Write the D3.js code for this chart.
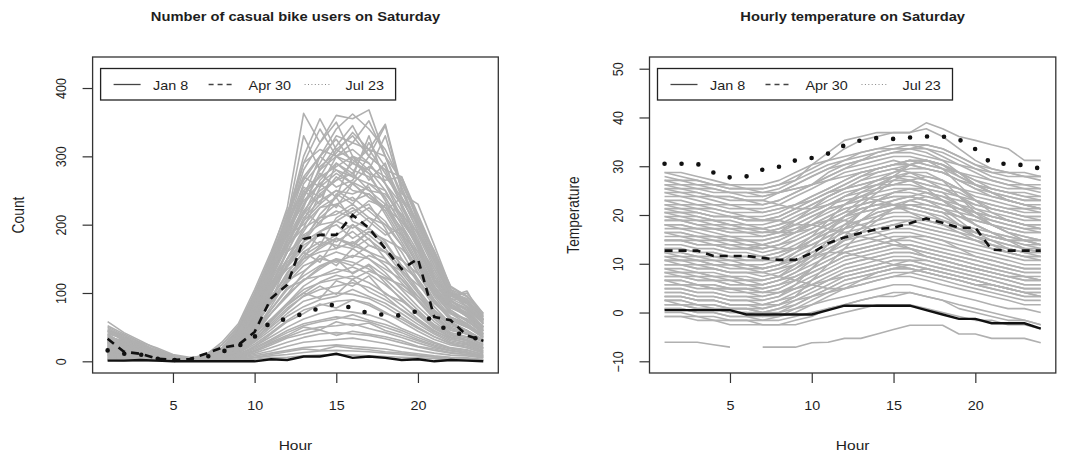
<!DOCTYPE html>
<html>
<head>
<meta charset="utf-8">
<script src="https://cdn.jsdelivr.net/npm/d3@7/dist/d3.min.js"></script>
<style>
  body { margin: 0; background: #fff; }
  svg { display: block; font-family: "Liberation Sans", Arial, Helvetica, sans-serif; }
</style>
</head>
<body>
<svg id="chart" width="1076" height="458"></svg>
<script>
// ---- data ----
var hours = [1,2,3,4,5,6,7,8,9,10,11,12,13,14,15,16,17,18,19,20,21,22,23,24];
var xTicks = [5, 10, 15, 20];
var countTicks = [0, 100, 200, 300, 400];
var tempTicks = [-10, 0, 10, 20, 30, 40, 50];
var legendLabels = ['Jan 8', 'Apr 30', 'Jul 23'];

// casual users on the other Saturdays (grey)
var countGrey = [
  [58,42,30,18,8,4,10,24,52,100,155,225,363,320,350,300,290,260,230,170,120,95,100,70],
  [40,34,24,14,6,3,6,18,42,95,150,210,300,355,310,330,300,345,250,200,150,100,80,60],
  [35,28,20,12,5,2,5,15,38,88,140,205,280,320,360,355,368,300,240,190,140,95,90,65],
  [30,22,18,10,4,2,4,12,33,78,135,200,270,300,340,362,340,310,260,210,160,100,85,55],
  [25,20,15,9,3,2,3,10,30,75,130,195,260,290,330,320,310,347,255,200,150,95,103,60],
  [48,36,25,14,7,4,8,20,48,100,150,215,290,310,300,280,270,240,200,160,110,80,70,50],
  [20,18,12,8,3,1,3,9,25,65,120,180,240,280,300,310,290,260,220,170,120,85,65,45],
  [38,26,20,12,5,3,6,16,40,90,140,200,250,270,285,300,280,250,210,175,130,90,75,50],
  [30,25,16,10,4,2,5,14,38,85,145,195,235,260,280,270,260,240,200,150,110,80,70,48],
  [22,17,13,7,3,1,3,10,28,70,130,175,220,250,265,290,275,235,190,145,105,75,60,40],
  [44,30,22,13,6,3,7,18,46,98,155,205,255,240,270,250,245,225,185,140,100,70,62,45],
  [18,14,10,6,2,1,3,8,22,60,110,160,210,235,250,245,255,215,175,135,95,65,55,38],
  [28,20,15,9,4,2,4,12,32,78,135,185,200,225,230,240,220,200,170,130,90,60,50,35],
  [35,24,18,10,5,2,5,14,36,82,125,170,195,210,215,230,210,190,160,120,85,62,52,36],
  [15,12,9,5,2,1,2,7,20,55,100,150,185,200,205,220,230,195,150,115,80,55,45,30],
  [26,19,14,8,3,1,4,11,30,72,115,150,175,190,200,180,195,175,140,105,75,55,45,32],
  [32,22,16,9,4,2,4,12,30,65,105,140,170,185,175,190,170,160,130,100,72,50,42,30],
  [12,10,8,5,2,1,2,6,18,48,90,130,160,175,170,165,180,150,120,90,65,45,40,28],
  [22,16,12,7,3,1,3,9,24,58,95,125,150,160,165,175,160,140,115,88,62,42,36,25],
  [28,20,14,8,3,2,4,10,25,55,85,115,140,150,145,155,150,130,105,80,58,40,34,24],
  [10,8,6,4,2,1,2,5,15,42,75,105,125,140,150,145,135,120,98,75,52,38,32,22],
  [18,14,10,6,3,1,3,8,20,45,70,95,120,125,135,130,140,115,90,68,48,35,30,20],
  [24,17,12,7,3,1,3,8,18,40,62,85,105,115,120,125,115,100,82,62,45,32,28,18],
  [8,7,5,3,1,1,2,5,12,32,55,78,95,105,110,115,108,95,75,58,42,30,25,16],
  [14,11,8,5,2,1,2,6,14,30,50,70,88,95,100,98,92,80,65,50,36,26,22,14],
  [20,15,10,6,2,1,2,6,12,25,42,60,75,82,88,90,85,72,58,44,32,24,20,12],
  [6,5,4,3,1,0,1,4,10,22,36,50,62,70,75,72,68,60,48,38,28,20,17,10],
  [12,9,7,4,2,1,2,5,10,20,32,45,55,60,65,62,58,50,42,32,24,18,14,8],
  [16,12,8,5,2,1,1,4,8,16,26,36,45,50,52,55,48,42,35,27,20,15,12,7],
  [5,4,3,2,1,0,1,3,6,12,20,28,35,40,42,40,38,33,27,21,16,12,10,6],
  [9,7,5,3,1,0,1,2,5,10,15,22,28,30,32,34,30,26,21,16,12,9,8,5],
  [4,3,2,2,1,0,1,2,4,8,12,16,20,22,24,22,20,18,14,11,8,6,5,3],
  [3,2,2,1,0,0,0,1,3,5,8,10,13,15,16,15,14,12,10,8,6,4,3,2],
  [2,1,1,1,0,0,0,1,2,3,5,6,8,9,10,9,8,7,6,5,4,3,2,1],
  [42,32,24,14,6,3,7,19,45,98,150,215,270,255,300,290,310,275,230,185,135,92,88,62],
  [30,24,18,11,5,2,5,15,40,92,140,190,230,275,255,265,300,280,230,175,125,88,78,55],
  [36,28,20,12,5,2,6,17,44,88,130,175,215,245,265,275,250,230,215,165,115,82,72,50],
  [26,20,14,9,4,2,4,12,33,76,118,160,205,230,250,235,245,220,180,140,98,70,60,42],
  [20,15,11,7,3,1,3,9,26,62,102,140,175,205,220,210,225,205,170,128,90,64,55,38],
  [16,13,9,6,2,1,2,7,21,52,88,122,155,170,185,200,185,165,135,102,72,52,45,30],
  [34,25,18,10,4,2,4,13,34,70,110,135,150,165,180,170,160,150,125,95,68,48,40,28],
  [10,8,6,4,2,1,2,5,14,35,60,85,110,125,130,138,128,112,92,70,50,36,30,20],
  [13,10,8,5,2,1,2,5,12,28,46,66,80,90,95,105,95,85,70,54,40,28,24,15],
  [7,6,4,3,1,0,1,3,8,18,30,42,52,58,62,68,60,54,45,35,26,19,16,10],
  [50,38,27,16,8,4,9,28,55,105,160,220,265,300,280,260,240,225,195,150,105,78,68,48],
  [45,38,22,16,9,3,5,14,30,70,125,190,250,230,290,270,330,260,210,165,115,85,70,50],
  [33,30,25,12,7,5,4,13,35,62,105,165,230,260,240,300,265,290,225,180,125,90,68,52],
  [28,18,20,9,5,2,6,11,26,58,98,150,195,245,225,260,240,220,240,190,140,98,80,58],
  [52,40,28,20,10,6,7,18,36,80,120,175,220,200,245,230,260,250,205,170,118,88,76,55],
  [18,22,14,10,6,3,3,9,22,48,88,145,175,215,240,205,195,230,185,140,102,75,58,45],
  [40,25,16,11,4,2,5,13,29,66,112,140,185,170,210,225,205,185,195,155,108,80,66,44],
  [24,16,12,8,4,1,2,8,19,44,80,118,150,190,165,200,178,160,150,118,85,70,55,36],
  [36,30,18,12,6,2,4,10,24,56,94,128,160,145,180,168,190,172,140,120,88,60,50,40],
  [14,9,11,6,3,1,2,6,16,38,70,98,130,155,140,165,150,135,120,95,70,58,45,30],
  [30,21,13,7,3,2,3,9,21,46,76,108,118,135,150,128,142,125,108,90,66,46,40,28],
  [8,10,6,4,2,1,1,4,11,30,58,82,100,92,118,110,125,98,88,72,54,40,30,20],
  [20,13,9,5,2,1,2,6,14,34,52,75,96,110,98,120,102,90,76,60,44,34,26,18],
  [11,8,7,4,2,0,1,3,9,22,40,58,70,84,78,90,82,70,62,48,36,26,20,13],
  [4,6,3,2,1,0,1,2,6,15,28,38,50,46,58,52,56,45,38,30,22,16,13,8],
  [17,11,8,5,2,1,1,4,7,14,24,34,40,46,38,44,40,36,30,22,18,13,10,6],
  [2,3,2,1,0,0,1,1,3,6,10,14,18,16,22,19,17,14,12,9,7,5,4,2],
  [46,34,26,15,7,3,8,24,50,95,145,210,330,280,315,345,300,280,270,215,160,105,95,66],
  [38,27,21,13,6,2,6,19,42,90,148,205,290,340,300,320,352,300,265,205,155,100,92,60],
  [27,24,15,10,5,2,5,14,33,80,138,185,240,300,325,290,280,330,250,195,145,96,84,58],
  [32,26,19,11,5,3,6,16,38,84,128,180,225,285,305,335,310,300,245,230,170,108,96,70],
  [21,17,13,8,3,1,3,11,27,68,120,170,215,265,290,275,320,285,235,200,150,102,88,62],
  [44,33,23,13,6,3,6,17,43,92,136,188,245,270,310,295,275,265,270,210,158,104,90,64],
  [26,21,15,9,4,1,4,12,31,74,122,168,205,255,275,260,285,270,240,205,162,110,95,68],
  [19,15,11,7,3,1,3,10,25,64,108,150,190,225,240,262,250,245,215,188,148,100,86,60],
  [31,23,17,10,4,2,4,13,31,70,112,160,180,210,230,215,235,225,205,170,135,92,80,56],
  [23,18,13,8,3,1,3,10,24,60,100,138,165,190,205,195,210,200,185,160,125,88,74,50],
  [15,12,9,6,2,1,2,8,20,50,86,120,145,168,180,172,190,178,165,140,110,80,66,45],
  [29,22,15,9,4,2,4,11,26,58,90,118,132,150,160,152,170,160,148,128,100,72,60,40],
  [11,9,7,4,2,1,2,6,15,40,70,98,118,138,148,140,155,145,132,112,88,64,52,34],
  [19,14,10,6,3,1,2,7,16,36,60,84,100,116,126,120,132,122,112,95,75,55,45,30]
];
var countJan8  = [1,1,2,1,0,0,0,0,0,0,3,2,7,7,11,5,7,5,2,3,0,2,1,0];
var countApr30 = [33,14,11,4,2,3,11,20,24,43,92,112,179,185,185,214,195,165,135,150,65,60,38,30];
var countJul23 = [16,11,10,4,2,2,6,14,22,36,58,62,70,78,84,78,70,68,67,74,57,43,38,30];

// hourly temperature on the other Saturdays (grey)
var tempGrey = [
  [28.7,28.7,27.9,27.1,26.2,26.2,26.2,27.1,28.7,30.3,31.2,32.0,32.8,33.6,33.6,33.6,34.4,33.6,32.0,30.3,29.5,28.7,28.7,27.9],
  [27.9,27.1,27.1,26.2,25.4,25.4,25.4,26.2,27.9,29.5,31.2,33.6,35.3,36.1,36.9,36.9,37.7,36.1,33.6,31.2,29.5,28.7,27.9,27.9],
  [26.2,26.2,25.4,25.4,24.6,24.6,24.6,25.4,27.1,30.3,32.8,35.3,36.1,36.9,36.9,36.9,38.9,37.7,36.1,35.3,34.4,33.6,31.2,31.2],
  [25.4,25.4,24.6,23.8,23.8,23.0,23.0,24.6,26.2,27.9,29.5,30.3,31.2,32.0,32.8,32.8,32.0,31.2,30.3,29.5,28.7,28.7,27.9,27.9],
  [24.6,23.8,23.8,23.0,22.1,22.1,22.1,23.0,24.6,26.2,27.9,29.5,30.3,31.2,32.0,32.0,31.2,30.3,28.7,27.1,26.2,25.4,25.4,24.6],
  [23.8,23.8,23.0,22.1,22.1,21.3,21.3,22.1,23.8,25.4,27.1,28.7,29.5,30.3,31.2,30.3,29.5,28.7,27.1,26.2,25.4,24.6,23.8,23.8],
  [23.0,22.1,22.1,21.3,20.5,20.5,20.5,21.3,22.1,23.8,25.4,27.1,28.7,29.5,30.3,30.3,31.2,30.3,28.7,26.2,24.6,23.8,23.0,23.0],
  [22.1,22.1,21.3,21.3,20.5,19.7,19.7,20.5,22.1,23.0,24.6,26.2,27.9,28.7,29.5,28.7,27.9,27.1,25.4,24.6,23.8,23.0,22.1,22.1],
  [21.3,21.3,20.5,19.7,19.7,18.9,18.9,19.7,21.3,23.0,24.6,25.4,26.2,27.1,27.9,27.9,27.1,26.2,25.4,23.8,23.0,22.1,21.3,21.3],
  [20.5,19.7,19.7,18.9,18.0,18.0,18.0,18.9,20.5,22.1,23.8,25.4,27.1,27.9,28.7,29.5,29.5,28.7,27.1,25.4,23.8,23.0,22.1,21.3],
  [19.7,19.7,18.9,18.9,18.0,17.2,17.2,18.0,19.7,21.3,23.0,24.6,25.4,26.2,26.2,27.1,26.2,25.4,24.6,23.0,22.1,21.3,20.5,20.5],
  [18.9,18.9,18.0,17.2,17.2,16.4,16.4,17.2,18.9,20.5,22.1,23.8,25.4,26.2,27.1,27.1,26.2,25.4,23.8,22.1,21.3,20.5,19.7,19.7],
  [18.0,18.0,17.2,17.2,16.4,16.4,15.6,16.4,18.0,19.7,21.3,22.1,23.0,23.8,24.6,24.6,23.8,23.0,22.1,21.3,20.5,19.7,18.9,18.9],
  [17.2,17.2,16.4,15.6,15.6,14.8,14.8,15.6,17.2,18.9,20.5,22.1,23.8,25.4,26.2,27.1,27.9,27.1,25.4,23.0,21.3,20.5,19.7,18.9],
  [16.4,16.4,15.6,15.6,14.8,14.8,13.9,14.8,16.4,18.0,19.7,21.3,22.1,23.0,23.8,23.8,23.0,22.1,21.3,20.5,19.7,18.9,18.0,18.0],
  [15.6,15.6,14.8,14.8,13.9,13.9,13.1,13.9,15.6,17.2,18.9,20.5,21.3,22.1,22.1,23.0,22.1,21.3,20.5,19.7,18.9,18.0,17.2,17.2],
  [14.8,14.8,13.9,13.9,13.1,13.1,12.3,13.1,14.8,16.4,18.0,19.7,21.3,22.1,23.0,23.8,24.6,23.8,22.1,20.5,18.9,18.0,17.2,16.4],
  [13.9,13.9,13.1,13.1,12.3,12.3,11.5,12.3,13.9,15.6,17.2,18.9,20.5,21.3,22.1,22.1,21.3,20.5,19.7,18.9,18.0,17.2,16.4,16.4],
  [13.1,13.1,12.3,12.3,11.5,11.5,10.7,11.5,13.1,14.8,16.4,17.2,18.0,18.9,19.7,19.7,18.9,18.0,17.2,16.4,15.6,14.8,14.8,13.9],
  [12.3,11.5,11.5,10.7,10.7,9.8,9.8,10.7,12.3,13.9,15.6,17.2,18.9,20.5,21.3,22.1,22.1,21.3,19.7,18.0,16.4,15.6,14.8,14.8],
  [11.5,11.5,10.7,10.7,9.8,9.8,9.0,9.8,11.5,13.1,14.8,16.4,17.2,18.0,18.9,18.9,18.0,17.2,16.4,15.6,14.8,13.9,13.1,13.1],
  [10.7,10.7,9.8,9.8,9.0,9.0,8.2,9.0,10.7,12.3,13.9,15.6,16.4,17.2,18.0,18.0,17.2,16.4,15.6,14.8,13.9,13.1,12.3,12.3],
  [9.8,9.8,9.0,9.0,8.2,8.2,7.4,8.2,9.8,11.5,13.1,14.8,16.4,17.2,18.0,18.9,18.9,18.0,16.4,14.8,13.1,12.3,11.5,11.5],
  [9.0,9.0,8.2,8.2,7.4,7.4,6.6,7.4,9.0,10.7,12.3,13.9,14.8,15.6,16.4,16.4,15.6,14.8,13.9,13.1,12.3,11.5,10.7,10.7],
  [8.2,8.2,7.4,7.4,6.6,6.6,5.7,6.6,8.2,9.8,11.5,13.1,13.9,14.8,15.6,15.6,14.8,13.9,13.1,12.3,11.5,10.7,9.8,9.8],
  [7.4,7.4,6.6,6.6,5.7,5.7,4.9,5.7,7.4,9.0,10.7,12.3,13.1,13.9,14.8,15.6,15.6,14.8,13.1,11.5,10.7,9.8,9.0,9.0],
  [6.6,6.6,5.7,5.7,4.9,4.9,4.1,4.9,6.6,8.2,9.8,11.5,12.3,13.1,13.9,13.9,13.1,12.3,11.5,10.7,9.8,9.0,8.2,8.2],
  [5.7,5.7,4.9,4.9,4.1,4.1,3.3,4.1,5.7,7.4,9.0,10.7,11.5,12.3,13.1,13.1,12.3,11.5,10.7,9.8,9.0,8.2,7.4,7.4],
  [4.9,4.9,4.1,4.1,3.3,3.3,2.5,3.3,4.9,6.6,8.2,9.8,10.7,11.5,12.3,12.3,11.5,10.7,9.8,9.0,8.2,7.4,6.6,6.6],
  [4.1,4.1,3.3,3.3,2.5,2.5,1.6,2.5,4.1,5.7,7.4,9.0,9.8,10.7,11.5,11.5,10.7,9.8,9.0,8.2,7.4,6.6,5.7,5.7],
  [3.3,3.3,2.5,2.5,1.6,1.6,0.8,1.6,3.3,4.9,6.6,8.2,9.0,9.8,10.7,10.7,9.8,9.0,8.2,7.4,6.6,5.7,4.9,4.9],
  [2.5,2.5,1.6,1.6,0.8,0.8,0.0,0.8,2.5,4.1,5.7,7.4,8.2,9.0,9.8,9.8,9.0,8.2,7.4,6.6,5.7,4.9,4.1,4.1],
  [1.6,1.6,0.8,0.8,0.0,0.0,-0.8,0.0,1.6,3.3,4.9,6.6,7.4,8.2,9.0,9.0,8.2,7.4,6.6,5.7,4.9,4.1,3.3,3.3],
  [0.8,0.8,0.0,0.0,-0.8,-0.8,-1.6,-0.8,0.8,2.5,4.1,5.7,6.6,7.4,8.2,8.2,7.4,6.6,5.7,4.9,4.1,3.3,2.5,2.5],
  [-0.8,-0.8,-1.6,-1.6,-2.5,-2.5,-2.5,-2.5,-1.6,-0.8,0.8,1.6,2.5,3.3,4.1,4.1,3.3,2.5,1.6,0.8,0.0,-0.8,-1.6,-2.5],
  [10.7,9.8,9.8,9.0,8.2,8.2,8.2,7.4,6.6,5.7,4.9,4.9,5.7,6.6,7.4,8.2,9.0,8.2,7.4,6.6,5.7,4.9,4.1,3.3],
  [2.5,2.5,1.6,1.6,0.8,0.8,0.8,1.6,3.3,6.6,9.8,13.1,16.4,18.9,21.3,23.0,23.8,23.0,21.3,19.7,18.0,16.4,14.8,13.9],
  [20.5,20.5,19.7,18.9,18.9,18.0,17.2,16.4,16.4,17.2,18.9,20.5,23.0,25.4,27.9,30.3,31.2,30.3,27.9,26.2,24.6,23.0,22.1,21.3],
  [18.0,17.2,17.2,16.4,15.6,15.6,15.6,16.4,18.9,21.3,23.8,25.4,26.2,27.1,27.9,27.1,25.4,23.0,20.5,18.0,16.4,14.8,13.9,13.1],
  [6.6,5.7,5.7,4.9,4.9,4.1,4.1,4.9,6.6,9.0,12.3,14.8,17.2,19.7,21.3,22.1,21.3,20.5,18.0,15.6,13.9,12.3,11.5,10.7],
  [0.0,0.0,-0.8,-0.8,-1.6,-1.6,-1.6,-1.6,-0.8,0.0,0.8,1.6,2.5,3.3,3.3,4.1,3.3,2.5,0.8,0.0,-0.8,-1.6,-1.6,-2.5],
  [27.1,26.2,26.2,25.4,24.6,24.6,23.8,24.6,25.4,26.2,27.1,27.9,28.7,29.5,30.3,31.2,30.3,29.5,28.7,27.9,27.1,26.2,26.2,25.4],
  [12.3,12.3,11.5,11.5,10.7,10.7,10.7,11.5,13.1,15.6,18.9,22.1,24.6,26.2,27.9,28.7,27.1,25.4,23.8,21.3,19.7,18.9,18.0,17.2],
  [3.3,3.3,2.5,2.5,1.6,1.6,1.6,1.6,2.5,3.3,4.1,4.9,5.7,6.6,7.4,7.4,6.6,5.7,4.9,4.1,3.3,2.5,1.6,1.6],
  [8.2,8.2,8.2,7.4,7.4,6.6,6.6,7.4,9.0,11.5,14.8,18.0,20.5,23.0,24.6,25.4,24.6,23.0,20.5,18.0,16.4,14.8,13.1,12.3],
  [28.7,27.9,27.1,26.2,26.2,25.4,25.4,26.2,27.1,28.7,30.3,31.2,32.0,32.8,33.6,34.4,34.4,33.6,32.0,30.3,28.7,27.9,27.9,27.1],
  [26.2,25.4,25.4,24.6,24.6,23.8,23.8,24.6,26.2,27.9,29.5,31.2,32.8,33.6,34.4,34.4,33.6,32.8,31.2,29.5,27.9,27.1,26.2,26.2],
  [24.6,24.6,23.8,23.8,23.0,23.0,22.1,23.0,24.6,26.2,28.7,30.3,31.2,32.0,32.8,33.6,33.6,32.0,30.3,28.7,27.1,26.2,25.4,25.4],
  [23.0,23.0,22.1,22.1,21.3,21.3,20.5,21.3,22.1,23.8,25.4,27.1,28.7,29.5,30.3,31.2,30.3,29.5,27.9,26.2,25.4,24.6,24.6,23.8],
  [21.3,20.5,20.5,19.7,19.7,18.9,18.9,18.9,20.5,22.1,23.8,25.4,27.1,28.7,29.5,30.3,29.5,28.7,27.1,25.4,24.6,23.8,23.0,23.0],
  [19.7,18.9,18.9,18.0,18.0,17.2,17.2,18.0,18.9,20.5,22.1,23.8,24.6,25.4,26.2,26.2,25.4,24.6,23.8,23.0,22.1,21.3,21.3,20.5],
  [18.0,18.0,17.2,17.2,16.4,16.4,16.4,17.2,18.0,19.7,21.3,22.1,23.8,24.6,25.4,25.4,24.6,23.8,23.0,22.1,21.3,20.5,19.7,19.7],
  [16.4,16.4,15.6,15.6,14.8,14.8,14.8,15.6,16.4,18.0,19.7,21.3,22.1,23.0,23.8,23.8,23.0,22.1,21.3,20.5,19.7,18.9,18.0,18.0],
  [14.8,14.8,14.8,13.9,13.9,13.1,13.1,13.9,14.8,16.4,18.0,19.7,20.5,21.3,22.1,22.1,21.3,20.5,19.7,18.9,18.0,17.2,16.4,16.4],
  [13.1,13.1,12.3,12.3,11.5,11.5,11.5,12.3,13.1,14.8,16.4,18.0,18.9,19.7,20.5,20.5,19.7,18.9,18.0,17.2,16.4,15.6,14.8,14.8],
  [11.5,10.7,10.7,9.8,9.8,9.0,9.0,9.8,10.7,12.3,13.9,15.6,16.4,17.2,18.0,18.0,17.2,16.4,15.6,14.8,13.9,13.1,12.3,12.3],
  [9.8,9.8,9.0,9.0,8.2,8.2,8.2,9.0,9.8,11.5,13.1,14.8,15.6,16.4,17.2,17.2,16.4,15.6,14.8,13.9,13.1,12.3,11.5,11.5],
  [8.2,7.4,7.4,6.6,6.6,5.7,5.7,6.6,7.4,9.0,10.7,12.3,13.1,13.9,14.8,14.8,13.9,13.1,12.3,11.5,10.7,9.8,9.0,9.0],
  [6.6,6.6,5.7,5.7,4.9,4.9,4.9,5.7,6.6,8.2,9.8,11.5,12.3,13.1,13.9,13.9,13.1,12.3,11.5,10.7,9.8,9.0,8.2,8.2],
  [4.9,4.9,4.1,4.1,3.3,3.3,3.3,4.1,4.9,6.6,8.2,9.8,10.7,11.5,12.3,12.3,11.5,10.7,9.8,9.0,8.2,7.4,6.6,6.6],
  [3.3,3.3,2.5,2.5,1.6,1.6,1.6,2.5,3.3,4.9,6.6,8.2,9.0,9.8,10.7,10.7,9.8,9.0,8.2,7.4,6.6,5.7,4.9,4.9],
  [1.6,1.6,0.8,0.8,0.0,0.0,0.0,0.8,1.6,3.3,4.9,6.6,7.4,8.2,9.0,9.0,8.2,7.4,6.6,5.7,4.9,4.1,3.3,3.3],
  [22.1,21.3,21.3,20.5,19.7,19.7,18.9,18.9,18.0,18.0,17.2,16.4,15.6,14.8,13.9,13.1,12.3,11.5,10.7,9.8,9.0,8.2,7.4,6.6],
  [18.9,18.9,18.0,18.0,17.2,17.2,16.4,16.4,17.2,18.0,18.9,18.9,18.0,16.4,14.8,13.1,11.5,10.7,9.8,9.0,8.2,7.4,7.4,6.6],
  [14.8,14.8,13.9,13.9,13.1,13.1,13.9,14.8,16.4,18.9,21.3,23.8,25.4,27.1,28.7,30.3,31.2,29.5,26.2,23.0,20.5,18.9,18.0,17.2],
  [4.1,4.1,3.3,3.3,2.5,2.5,2.5,3.3,5.7,9.0,12.3,15.6,18.9,21.3,23.0,23.8,23.0,21.3,18.9,16.4,14.8,13.1,12.3,11.5],
  [9.0,8.2,8.2,7.4,7.4,6.6,6.6,7.4,9.8,13.1,16.4,19.7,22.1,24.6,27.1,28.7,28.7,27.1,23.8,20.5,18.0,16.4,15.6,14.8],
  [25.4,24.6,24.6,23.8,23.8,23.0,23.0,22.1,21.3,21.3,22.1,23.0,23.8,23.0,22.1,20.5,18.9,18.0,17.2,16.4,15.6,14.8,14.8,13.9],
  [12.3,12.3,11.5,11.5,11.5,10.7,10.7,10.7,10.7,11.5,12.3,12.3,11.5,10.7,9.8,9.0,8.2,7.4,6.6,5.7,5.7,4.9,4.1,4.1],
  [7.4,7.4,6.6,6.6,5.7,5.7,5.7,6.6,8.2,10.7,13.9,17.2,20.5,23.0,24.6,25.4,25.4,24.6,22.1,19.7,18.0,16.4,15.6,14.8],
  [16.4,15.6,15.6,14.8,14.8,13.9,13.9,13.1,13.1,13.9,15.6,17.2,18.9,20.5,21.3,21.3,20.5,18.9,17.2,15.6,14.8,13.9,13.1,12.3],
  [0.8,0.8,0.0,0.0,-0.8,-0.8,-0.8,-0.8,0.0,1.6,3.3,4.9,6.6,8.2,9.0,9.8,9.0,8.2,7.4,6.6,5.7,4.9,4.1,3.3],
  [-0.8,-0.8,-0.8,-1.6,-1.6,-1.6,-2.5,-2.5,-2.5,-1.6,-0.8,0.0,0.8,1.6,1.6,1.6,0.8,0.0,-0.8,-1.6,-1.6,-2.5,-2.5,-3.3],
  [27.1,27.1,26.2,26.2,25.4,25.4,24.6,24.6,25.4,26.2,27.9,29.5,31.2,32.8,33.6,33.6,32.8,31.2,28.7,26.2,24.6,23.0,22.1,21.3],
  [10.7,10.7,10.7,9.8,9.8,9.8,9.0,9.8,12.3,14.8,17.2,19.7,21.3,22.1,22.1,21.3,20.5,19.7,18.0,16.4,15.6,14.8,13.9,13.9],
  [20.5,20.5,20.5,19.7,19.7,18.9,18.9,19.7,21.3,23.0,24.6,26.2,27.9,29.5,30.3,31.2,31.2,30.3,28.7,27.1,25.4,24.6,23.8,23.0],
  [5.7,5.7,5.7,4.9,4.9,4.9,4.1,4.1,4.9,5.7,6.6,7.4,8.2,9.0,9.8,10.7,10.7,9.8,9.0,8.2,7.4,6.6,5.7,5.7],
  [2.5,1.6,1.6,0.8,0.8,0.8,0.0,0.0,0.8,1.6,2.5,3.3,4.1,4.9,5.7,5.7,4.9,4.1,3.3,2.5,1.6,0.8,0.8,0.0],
  [-6.1,-6.1,-6.1,-6.6,-7.1,null,-7.1,-7.1,-7.1,-6.2,-6.1,-5.3,-5.3,-4.4,-3.5,-2.6,-2.6,-2.6,-4.4,-4.4,-5.3,-5.3,-5.3,-6.2]
];
var tempJan8  = [0.5,0.5,0.5,0.5,0.5,-0.4,-0.4,-0.4,-0.4,-0.4,0.5,1.4,1.4,1.4,1.4,1.4,0.5,-0.4,-1.3,-1.3,-2.2,-2.2,-2.2,-3.3];
var tempApr30 = [12.7,12.7,12.7,11.6,11.6,11.6,11.2,10.8,10.8,12.2,14.2,15.4,16.3,17.1,17.4,18.3,19.3,18.4,17.4,17.4,12.9,12.7,12.7,12.7];
var tempJul23 = [30.5,30.5,30.5,28.7,27.7,27.9,29.3,29.9,31.2,31.7,32.6,34.3,35.3,35.8,35.6,35.9,36.1,36.1,35.5,33.5,30.5,30.5,30.2,29.5];

// ---- drawing ----
var svg = d3.select('#chart');
var SX = 1.15;           // horizontal text stretch seen in the picture
var TOP = 57, BOTTOM = 373;
var INK = '#1e1e1e';

function hText(g, x, y, str, size, anchor, weight) {
  return g.append('text').attr('transform', 'translate(' + x + ',' + y + ') scale(' + SX + ',1)')
    .attr('text-anchor', anchor).attr('font-size', size).attr('font-weight', weight || 'normal')
    .attr('fill', INK).text(str);
}

function panel(o) {
  var g = svg.append('g');
  var x = d3.scaleLinear().domain([0.08, 24.92]).range([o.left, o.right]);
  var y = d3.scaleLinear().domain(o.ydom).range([BOTTOM, TOP]);
  var line = d3.line().defined(function (d) { return d != null; })
    .x(function (d, i) { return x(hours[i]); }).y(function (d) { return y(d); });

  g.append('g').selectAll('path').data(o.grey).enter().append('path')
    .attr('d', line).attr('fill', 'none').attr('stroke', '#b0b0b0').attr('stroke-width', 1.6)
    .attr('stroke-linejoin', 'round');

  g.append('path').attr('d', line(o.jan)).attr('fill', 'none').attr('stroke', '#111').attr('stroke-width', 2.4);
  g.append('path').attr('d', line(o.apr)).attr('fill', 'none').attr('stroke', '#111').attr('stroke-width', 2.6)
    .attr('stroke-dasharray', '8,6');
  g.append('path').attr('d', line(o.jul)).attr('fill', 'none').attr('stroke', '#111').attr('stroke-width', 4.6)
    .attr('stroke-linecap', 'round').attr('stroke-dasharray', '0,17');

  // box
  g.append('rect').attr('x', x(0.08)).attr('y', TOP).attr('width', x(24.92) - x(0.08)).attr('height', BOTTOM - TOP)
    .attr('fill', 'none').attr('stroke', '#333').attr('stroke-width', 1.3);

  // axes
  var ax = g.append('g').attr('transform', 'translate(0,' + BOTTOM + ')')
    .call(d3.axisBottom(x).tickValues(xTicks).tickSize(10).tickSizeOuter(0));
  ax.select('.domain').remove();
  ax.selectAll('line').attr('stroke', '#333').attr('stroke-width', 1.2);
  ax.selectAll('text').attr('y', null).attr('dy', null).attr('transform', 'translate(0,37) scale(' + SX + ',1)')
    .attr('font-size', 12.5).attr('font-family', null).attr('fill', INK);

  var ay = g.append('g').attr('transform', 'translate(' + x(0.08) + ',0)')
    .call(d3.axisLeft(y).tickValues(o.yticks).tickSize(10).tickSizeOuter(0).tickFormat(d3.format('d')));
  ay.select('.domain').remove();
  ay.selectAll('line').attr('stroke', '#333').attr('stroke-width', 1.2);
  ay.selectAll('text').attr('x', null).attr('dy', null).attr('text-anchor', 'middle')
    .attr('transform', 'translate(-27,0) scale(' + SX + ',1) rotate(-90)')
    .attr('font-size', 12.5).attr('font-family', null).attr('fill', INK).text(function (d) { return String(d).replace('-', '\u2212'); });

  var cx = (x(0.08) + x(24.92)) / 2;
  hText(g, cx, 21, o.title, 12.8, 'middle', 'bold');
  hText(g, cx, 450, 'Hour', 13.5, 'middle');
  g.append('text').attr('transform', 'translate(' + o.ylabX + ',' + ((TOP + BOTTOM) / 2) + ') scale(' + SX + ',1) rotate(-90)')
    .attr('text-anchor', 'middle').attr('font-size', 13.8).attr('fill', INK).text(o.ylab);

  // legend
  var lx = x(0.08) + 8, ly = 68.5;
  var lg = g.append('g').attr('transform', 'translate(' + lx + ',' + ly + ')');
  lg.append('rect').attr('width', 295).attr('height', 31.5).attr('fill', '#fff').attr('stroke', '#222').attr('stroke-width', 1.3);
  var segs = [[13, 40, null, 1.3], [108, 132, '5,4', 1.4], [204, 229, '1,2.4', 1.1]];
  var txs = [52.5, 148, 245];
  segs.forEach(function (s, i) {
    var l = lg.append('line').attr('x1', s[0]).attr('x2', s[1]).attr('y1', 16).attr('y2', 16)
      .attr('stroke', i === 2 ? '#888' : '#444').attr('stroke-width', s[3]);
    if (s[2]) l.attr('stroke-dasharray', s[2]);
    hText(lg, txs[i], 21, legendLabels[i], 12.5, 'start');
  });
}

panel({ left: 92.6, right: 498.3, ydom: [-17.1, 445.4], yticks: countTicks, grey: countGrey,
  jan: countJan8, apr: countApr30, jul: countJul23,
  title: 'Number of casual bike users on Saturday', ylab: 'Count', ylabX: 24 });
panel({ left: 649.5, right: 1055.8, ydom: [-12.4, 52.4], yticks: tempTicks, grey: tempGrey,
  jan: tempJan8, apr: tempApr30, jul: tempJul23,
  title: 'Hourly temperature on Saturday', ylab: 'Temperature', ylabX: 579 });
</script>
</body>
</html>
